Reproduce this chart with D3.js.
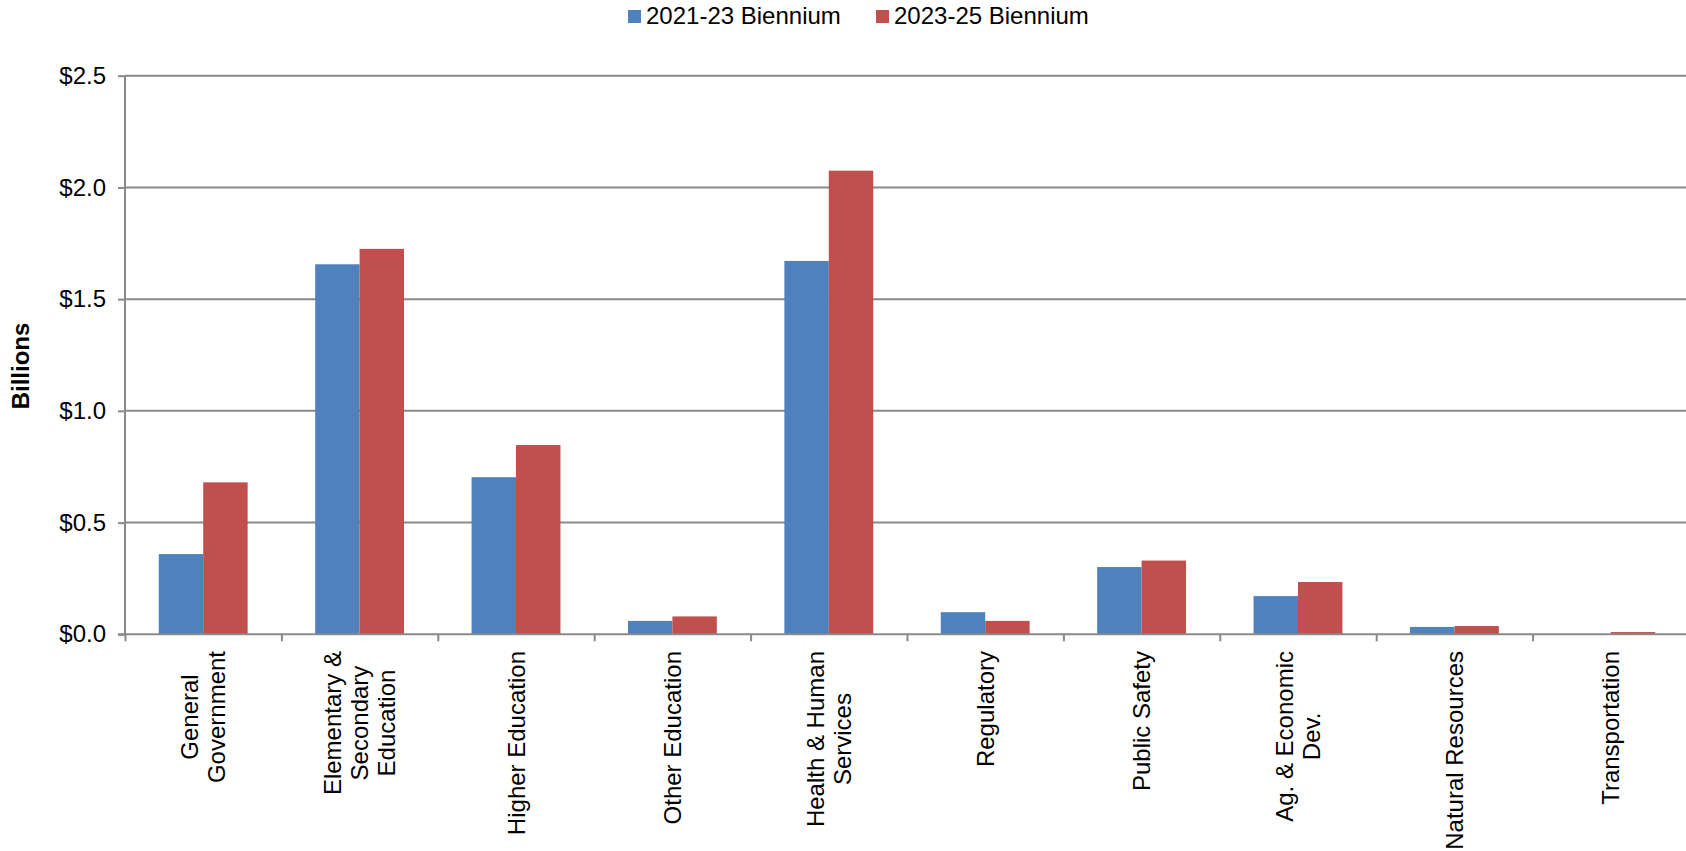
<!DOCTYPE html>
<html>
<head>
<meta charset="utf-8">
<script src="https://cdn.jsdelivr.net/npm/d3@7"></script>
<style>
  body { margin: 0; background: #fff; }
  text { font-family: "Liberation Sans", Arial, sans-serif; fill: #000; }
</style>
</head>
<body>
<div id="chart"></div>
<script>
// Data (billions)
var categories = ["General Government", "Elementary & Secondary Education", "Higher Education",
    "Other Education", "Health & Human Services", "Regulatory", "Public Safety",
    "Ag. & Economic Dev.", "Natural Resources", "Transportation"];
var labelLines = [["General", "Government"], ["Elementary &", "Secondary", "Education"], ["Higher Education"],
    ["Other Education"], ["Health & Human", "Services"], ["Regulatory"], ["Public Safety"],
    ["Ag. & Economic", "Dev."], ["Natural Resources"], ["Transportation"]];
var series = ["2021-23 Biennium", "2023-25 Biennium"];
var values2123 = [0.359, 1.656, 0.703, 0.060, 1.671, 0.099, 0.301, 0.171, 0.033, 0.0];
var values2325 = [0.680, 1.725, 0.847, 0.080, 2.075, 0.060, 0.330, 0.234, 0.037, 0.010];
var yTicks = [0, 0.5, 1.0, 1.5, 2.0, 2.5];
var colors = ["#4F81BD", "#C0504D"];

var width = 1686, height = 851;
var plotLeft = 125, plotRight = 1689, plotTop = 75.7, plotBottom = 634.3;

var svg = d3.select("#chart").append("svg")
    .attr("width", width)
    .attr("height", height);

// Scales
var x0 = d3.scaleBand()
    .domain(categories)
    .range([plotLeft, plotRight])
    .paddingInner(0)
    .paddingOuter(0);
var x1 = d3.scaleBand()
    .domain(series)
    .range([0, x0.bandwidth()])
    .paddingInner(0)
    .paddingOuter(0.76);
var xTick = d3.scaleLinear()
    .domain([0, categories.length])
    .range([plotLeft, plotRight]);
var y = d3.scaleLinear()
    .domain([0, 2.5])
    .range([plotBottom, plotTop]);
var color = d3.scaleOrdinal()
    .domain(series)
    .range(colors);

// Gridlines
svg.append("g")
    .selectAll("line")
    .data(yTicks.filter(d => d > 0))
    .enter()
    .append("line")
    .attr("x1", plotLeft)
    .attr("x2", plotRight)
    .attr("y1", d => y(d))
    .attr("y2", d => y(d))
    .style("stroke", "#8a8a8a")
    .style("stroke-width", 2);

// Bars
var data = categories.map((c, i) => ({cat: c, vals: [values2123[i], values2325[i]]}));
var groups = svg.append("g").selectAll(".grp")
    .data(data)
    .enter()
    .append("g")
    .attr("class", "grp")
    .attr("transform", d => "translate(" + x0(d.cat) + ",0)");
groups.selectAll("rect")
    .data(d => d.vals.map((v, j) => ({s: series[j], v: v})))
    .enter()
    .append("rect")
    .attr("x", d => x1(d.s))
    .attr("width", x1.bandwidth())
    .attr("y", d => y(d.v))
    .attr("height", d => y(0) - y(d.v))
    .style("fill", d => color(d.s));

// Y axis
var yAxis = d3.axisLeft(y)
    .tickValues(yTicks)
    .tickSize(7)
    .tickPadding(12)
    .tickFormat(d => "$" + d3.format(".1f")(d));
var yAxisG = svg.append("g")
    .attr("transform", "translate(" + plotLeft + ",0)")
    .call(yAxis);
yAxisG.select(".domain").style("stroke", "#8a8a8a").style("stroke-width", 2)
    .attr("d", "M0," + plotTop + "V" + plotBottom);
yAxisG.selectAll(".tick line").style("stroke", "#8a8a8a").style("stroke-width", 2);
yAxisG.selectAll(".tick text")
    .style("font-size", "24px")
    .style("font-family", "'Liberation Sans', Arial, sans-serif")
    .attr("fill", "#000");

// X axis (ticks at category boundaries)
var xAxis = d3.axisBottom(xTick)
    .tickValues(d3.range(categories.length + 1))
    .tickSize(7)
    .tickFormat("");
var xAxisG = svg.append("g")
    .attr("transform", "translate(0," + plotBottom + ")")
    .call(xAxis);
xAxisG.select(".domain").style("stroke", "#8a8a8a").style("stroke-width", 2)
    .attr("d", "M" + (plotLeft - 7) + ",0H" + plotRight);
xAxisG.selectAll(".tick line").style("stroke", "#8a8a8a").style("stroke-width", 2);

// Category labels, rotated, lines centred, block hung from below the axis
var lineH = 27;
var labelTop = 651;
categories.forEach(function(c, i) {
    var lines = labelLines[i];
    var cx = x0(c) + x0.bandwidth() / 2;
    var g = svg.append("g");
    var texts = lines.map(function(t, k) {
        return g.append("text")
            .style("font-size", "24px")
            .attr("text-anchor", "middle")
            .text(t);
    });
    var maxLen = d3.max(texts, t => t.node().getComputedTextLength());
    var n = lines.length;
    texts.forEach(function(t, k) {
        var bx = cx + (k - (n - 1) / 2) * lineH + 8.5;
        t.attr("transform", "translate(" + bx + "," + (labelTop + maxLen / 2) + ") rotate(-90)");
    });
});

// Y axis title
svg.append("text")
    .attr("transform", "translate(29,366) rotate(-90)")
    .attr("text-anchor", "middle")
    .style("font-size", "24px")
    .style("font-weight", "bold")
    .text("Billions");

// Legend
var legend = svg.append("g");
var legendX = [628, 876];
series.forEach(function(s, i) {
    legend.append("rect")
        .attr("x", legendX[i])
        .attr("y", 10)
        .attr("width", 13)
        .attr("height", 13)
        .style("fill", color(s));
    legend.append("text")
        .attr("x", legendX[i] + 18)
        .attr("y", 24)
        .style("font-size", "24px")
        .text(s);
});
</script>
</body>
</html>
